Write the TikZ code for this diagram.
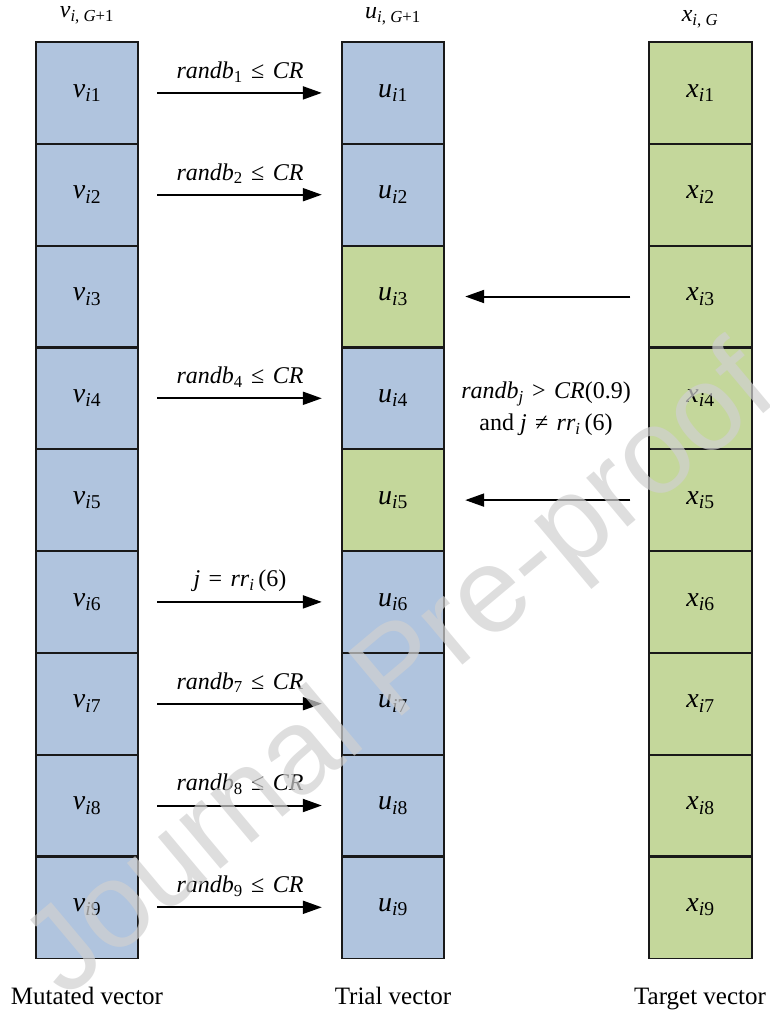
\documentclass[tikz,border=0pt]{standalone}
\usepackage{fontspec}
\setmainfont{Liberation Serif}
\newfontfamily\wmfont{Liberation Sans}
\usetikzlibrary{arrows.meta,calc}
\definecolor{cellblue}{RGB}{176,196,222}
\definecolor{cellgreen}{RGB}{196,215,155}
\definecolor{wmgray}{RGB}{208,208,208}
\newcommand{\opsp}{\hspace{0.35em}}
\newcommand{\vv}[1]{\textit{v}\textsubscript{\textit{i}#1}}
\newcommand{\uu}[1]{\textit{u}\textsubscript{\textit{i}#1}}
\newcommand{\xx}[1]{\textit{x}\textsubscript{\textit{i}#1}}
\newcommand{\rb}[1]{\textit{randb}\textsubscript{#1}\opsp≤\opsp\textit{CR}}
\begin{document}
\begin{tikzpicture}[x=1pt,y=-1pt,
  cell/.style={minimum width=102pt, minimum height=101.8pt, inner sep=0pt, font=\fontsize{28}{30}\selectfont},
  bcell/.style={cell, fill=cellblue},
  gcell/.style={cell, fill=cellgreen},
  border/.style={draw=black!90, line width=1.8pt},
  arr/.style={line width=2pt, -{Triangle[length=19pt,width=13pt]}},
  lab/.style={font=\fontsize{24}{32}\selectfont, inner sep=0pt},
  captext/.style={font=\fontsize{25}{28}\selectfont, inner sep=0pt, anchor=base},
  toplab/.style={font=\fontsize{24}{26}\selectfont, inner sep=0pt, anchor=base}]
\useasboundingbox (0,0) rectangle (770,1011);
% columns
\foreach \k [evaluate=\k as \yy using {42+101.8*(\k-0.5)}] in {1,...,9}{
  \node[bcell] (v\k) at (87,\yy) {\vv{\k}};
  \node[gcell] (x\k) at (700.5,\yy) {\xx{\k}};
}
\foreach \k [evaluate=\k as \yy using {42+101.8*(\k-0.5)}] in {1,2,4,6,7,8,9}{
  \node[bcell] (u\k) at (393,\yy) {\uu{\k}};
}
\foreach \k [evaluate=\k as \yy using {42+101.8*(\k-0.5)}] in {3,5}{
  \node[gcell] (u\k) at (393,\yy) {\uu{\k}};
}
\foreach \k in {1,...,9}{
  \draw[border] (v\k.north west) rectangle (v\k.south east);
  \draw[border] (u\k.north west) rectangle (u\k.south east);
  \draw[border] (x\k.north west) rectangle (x\k.south east);
}
% top labels
\node[toplab] (tv) at (87,18) {\textit{v}\textsubscript{\textit{i}, \textit{G}+1}};
\node[toplab] (tu) at (393,19) {\textit{u}\textsubscript{\textit{i}, \textit{G}+1}};
\node[toplab] (tx) at (700,22) {\textit{x}\textsubscript{\textit{i}, \textit{G}}};
% bottom captions
\node[captext] (cv) at (87,1004) {Mutated vector};
\node[captext] (cu) at (393,1004) {Trial vector};
\node[captext] (cx) at (700,1004) {Target vector};
% right arrows
\foreach \k in {1,2,4,6,7,8,9}{
  \draw[arr] ([xshift=19pt]v\k.east) -- ([xshift=-20pt]u\k.west);
}
\foreach \k/\t in {1/\rb{1},2/\rb{2},4/\rb{4},6/{\textit{j}\opsp=\opsp\textit{rr}\textsubscript{\textit{i}}\,(6)},7/\rb{7},8/\rb{8},9/\rb{9}}{
  \node[lab] (l\k) at ([yshift=21pt]$(v\k.east)!0.5!(u\k.west)$) {\t};
}
% left arrows
\draw[arr] ([xshift=-19pt]x3.west) -- ([xshift=21pt]u3.east);
\draw[arr] ([xshift=-19pt]x5.west) -- ([xshift=21pt]u5.east);
\node[lab, align=center] (cond) at (546,409) {\textit{randb}\textsubscript{\textit{j}}\opsp>\opsp\textit{CR}(0.9)\\ and \textit{j}\opsp≠\opsp\textit{rr}\textsubscript{\textit{i}}\,(6)};
% watermark
\node[font=\wmfont\fontsize{121}{128}\selectfont, text=wmgray, text opacity=0.7, rotate=40, inner sep=0pt] (wm) at (403,675) {Journal Pre-proof};
\end{tikzpicture}
\end{document}
